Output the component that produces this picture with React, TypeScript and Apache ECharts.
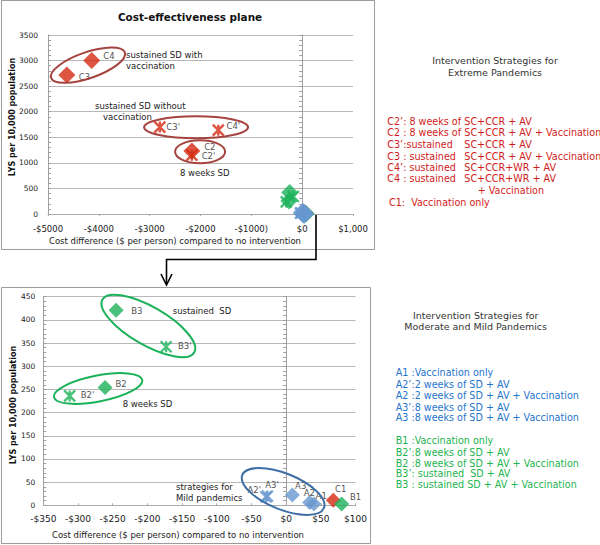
import React, { useEffect, useRef } from 'react';
import * as echarts from 'echarts';

// ---------------- data ----------------
const extremeDiamondNames = ['C4', 'C3', 'C2', 'C1'];
const extremeDiamondCost = [-4140, -4630, -2170, 68];
const extremeDiamondLys = [3000, 2720, 1230, 11];

const extremeCrossNames = ["C3'", "C4'", "C2'"];
const extremeCrossCost = [-2800, -1650, -2170];
const extremeCrossLys = [1700, 1640, 1150];

const moderateDiamondNames = ['B3', 'B2', 'B1'];
const moderateDiamondCost = [-245, -261, 80];
const moderateDiamondLys = [421, 254, 3];

const moderateCrossNames = ["B3'", "B2'"];
const moderateCrossCost = [-173, -312];
const moderateCrossLys = [342, 236];

const mildDiamondNames = ['A3', 'A2', 'A1'];
const mildDiamondCost = [9, 34, 40];
const mildDiamondLys = [22, 6, 3];

const mildCrossNames = ["A2'", "A3'"];
const mildCrossCost = [-29, -27];
const mildCrossLys = [18, 20];

const topXTickLabels = ['-$5000', '-$4000', '-$3000', '-$2000', '-$1000)', '$0', '$1,000'];
const topYTickLabels = ['0', '500', '1000', '1500', '2000', '2500', '3000', '3500'];
const bottomXTickLabels = ['-$350', '-$300', '-$250', '-$200', '-$150', '-$100', '-$50', '$0', '$50', '$100'];
const bottomYTickLabels = ['0', '50', '100', '150', '200', '250', '300', '350', '400', '450'];

const extremeLegendLeft = ['C2\u2019: 8 weeks of', 'C2 : 8 weeks of', 'C3\u2019:sustained', 'C3 : sustained', 'C4\u2019: sustained', 'C4 : sustained'];
const extremeLegendRight = ['SC+CCR + AV', 'SC+CCR + AV + Vaccination', 'SC+CCR + AV', 'SC+CCR + AV + Vaccination', 'SC+CCR+WR + AV', 'SC+CCR+WR + AV'];
const extremeLegendExtra = ['+ Vaccination', 'C1:  Vaccination only'];
const mildLegend = ['A1 :Vaccination only', 'A2\u2019:2 weeks of SD + AV', 'A2 :2 weeks of SD + AV + Vaccination', 'A3\u2019:8 weeks of SD + AV', 'A3 :8 weeks of SD + AV + Vaccination'];
const moderateLegend = ['B1 :Vaccination only', 'B2\u2019:8 weeks of SD + AV', 'B2 :8 weeks of SD + AV + Vaccination', 'B3\u2019: sustained  SD + AV', 'B3 : sustained SD + AV + Vaccination'];

// ---------------- presentation ----------------
const FONT = 'DejaVu Sans';
const RED = '#d42a12';
const GREEN = '#1cb25a';
const BLUE = '#6897cf';
const RED_TXT = '#d01c1c';
const BLUE_TXT = '#1f74cc';
const GREEN_TXT = '#1db450';
const LEG_FS = 9.6;
const crossPath = 'path://M0,0L10,10M10,0L0,10M5,0L5,10';

const topLabelOffsets: Record<string, [number, number]> = {
  C4: [11.6, -4.7], C3: [12, 2.6], "C3'": [7.7, 0.7], "C4'": [9.4, -2.7], C2: [12.3, -4.3], "C2'": [11, 1.7],
};
const bottomLabelOffsets: Record<string, [number, number]> = {
  B3: [15, 1], "B3'": [13, 0], B2: [10.4, -3.7], "B2'": [12.3, 0.7], "A2'": [-17.4, -6], "A3'": [-1, -10],
  A3: [2.7, -9.3], A2: [-6, -10], A1: [1.7, -8.3], C1: [1.7, -11.7], B1: [8.3, -6.7],
};

const topRange = { xMin: -5000, xMax: 1000, yMin: 0, yMax: 3500 };
const bottomRange = { xMin: -350, xMax: 100, yMin: 0, yMax: 450 };

// ellipse annotations: centre in data units, radii in px, angle in degrees (counter-clockwise)
const topEllipses = [
  { cost: -4213, lys: 2910, rx: 39, ry: 13, angle: 19, color: '#a5443f' },
  { cost: -2087, lys: 1695, rx: 52, ry: 11, angle: 0, color: '#a5443f' },
  { cost: -2008, lys: 1217, rx: 25, ry: 11.5, angle: 0, color: '#a5443f' },
];
const bottomEllipses = [
  { cost: -198.6, lys: 387, rx: 53, ry: 19, angle: -30, color: GREEN },
  { cost: -271, lys: 252, rx: 45, ry: 13, angle: 11, color: GREEN },
  { cost: -4.3, lys: 29.8, rx: 44, ry: 18, angle: -22, color: '#3e6ea6' },
];

function makeSeries(
  names: string[], xs: number[], ys: number[],
  opt: { panel: 0 | 1; cross: boolean; size: number; color: string; labels: Record<string, [number, number]> }
) {
  const range = opt.panel === 0 ? topRange : bottomRange;
  const data: any[] = [];
  names.forEach((n, i) => {
    const x = xs[i], y = ys[i];
    if (x < range.xMin || x > range.xMax || y < range.yMin || y > range.yMax) return;
    const off = opt.labels[n];
    data.push({
      name: n,
      value: [x, y],
      label: off
        ? {
            show: true,
            position: [opt.size / 2 + off[0], opt.size / 2 + off[1]],
            align: 'left',
            verticalAlign: 'middle',
            formatter: n,
            fontSize: 8.5,
            fontFamily: FONT,
            color: '#1a1a1a',
          }
        : { show: false },
    });
  });
  return {
    type: 'scatter',
    xAxisIndex: opt.panel,
    yAxisIndex: opt.panel === 0 ? 0 : 3,
    symbol: opt.cross ? crossPath : 'diamond',
    symbolSize: opt.size,
    itemStyle: opt.cross
      ? { color: opt.color, borderColor: opt.color, borderWidth: 2.4 }
      : { color: opt.color, borderWidth: 0 },
    emphasis: { disabled: true },
    data,
  };
}

function txt(x: number, y: number, text: string, o: any = {}) {
  return {
    type: 'text',
    x,
    y,
    rotation: o.rotation || 0,
    silent: true,
    z: 50,
    style: {
      text,
      fill: o.fill || '#1a1a1a',
      fontSize: o.fontSize || 9,
      fontFamily: FONT,
      fontWeight: o.fontWeight || 'normal',
      align: o.align || 'left',
      verticalAlign: 'middle',
    },
  };
}

function zeroAxis(gridIndex: number, max: number, interval: number, inside: boolean) {
  return {
    gridIndex,
    type: 'value',
    min: 0,
    max,
    interval,
    position: 'left',
    axisLine: { show: true, onZero: true, lineStyle: { color: '#a0a0a0', width: 1 } },
    axisTick: { show: true, inside, length: 3, lineStyle: { color: '#a0a0a0' } },
    minorTick: { show: true, splitNumber: 5, length: 3, lineStyle: { color: '#a0a0a0' } },
    axisLabel: { show: false },
    splitLine: { show: false },
  };
}

export default function App() {
  const ref = useRef<HTMLDivElement>(null);
  useEffect(() => {
    if (!ref.current) return;
    const chart = echarts.init(ref.current, undefined, { renderer: 'svg' });
    const axisLabelStyle = { color: '#1a1a1a', fontFamily: FONT };
    const option: any = {
      animation: false,
      textStyle: { fontFamily: FONT },
      grid: [
        { left: 48, right: 247, top: 35, bottom: 331, containLabel: false, outerBoundsMode: 'none' },
        { left: 43.3, right: 244.5, top: 296.7, bottom: 39.7, containLabel: false, outerBoundsMode: 'none' },
      ],
      xAxis: [
        {
          gridIndex: 0, type: 'value', min: topRange.xMin, max: topRange.xMax, interval: 1000,
          axisLine: { show: true, onZero: false, lineStyle: { color: '#aaaaaa' } },
          axisTick: { show: true, length: 2, lineStyle: { color: '#aaaaaa' } },
          splitLine: { show: false },
          axisLabel: {
            ...axisLabelStyle, fontSize: 8.5, margin: 10,
            formatter: (v: number) => topXTickLabels[Math.round((v - topRange.xMin) / 1000)] ?? '',
          },
        },
        {
          gridIndex: 1, type: 'value', min: bottomRange.xMin, max: bottomRange.xMax, interval: 50,
          axisLine: { show: true, onZero: false, lineStyle: { color: '#aaaaaa' } },
          axisTick: { show: true, inside: true, length: 2, lineStyle: { color: '#aaaaaa' } },
          splitLine: { show: false },
          axisLabel: {
            ...axisLabelStyle, fontSize: 9, margin: 9,
            formatter: (v: number) => bottomXTickLabels[Math.round((v - bottomRange.xMin) / 50)] ?? '',
          },
        },
      ],
      yAxis: [
        {
          gridIndex: 0, type: 'value', min: 0, max: 3500, interval: 500,
          axisLine: { show: false, onZero: false }, axisTick: { show: false },
          splitLine: { show: true, lineStyle: { color: '#b8b8b8', width: 1 } },
          axisLabel: {
            ...axisLabelStyle, fontSize: 7.5, margin: 10,
            formatter: (v: number) => topYTickLabels[Math.round(v / 500)] ?? '',
          },
        },
        zeroAxis(0, 3500, 500, false),
        zeroAxis(0, 3500, 500, true),
        {
          gridIndex: 1, type: 'value', min: 0, max: 450, interval: 50,
          axisLine: { show: false, onZero: false }, axisTick: { show: false },
          splitLine: { show: true, lineStyle: { color: '#b8b8b8', width: 1 } },
          axisLabel: {
            ...axisLabelStyle, fontSize: 7.5, margin: 8,
            formatter: (v: number) => bottomYTickLabels[Math.round(v / 50)] ?? '',
          },
        },
        zeroAxis(1, 450, 50, false),
        zeroAxis(1, 450, 50, true),
      ],
      series: [
        makeSeries(extremeDiamondNames, extremeDiamondCost, extremeDiamondLys, { panel: 0, cross: false, size: 17, color: RED, labels: topLabelOffsets }),
        makeSeries(extremeCrossNames, extremeCrossCost, extremeCrossLys, { panel: 0, cross: true, size: 11, color: RED, labels: topLabelOffsets }),
        makeSeries(moderateDiamondNames, moderateDiamondCost, moderateDiamondLys, { panel: 0, cross: false, size: 17, color: GREEN, labels: {} }),
        makeSeries(moderateCrossNames, moderateCrossCost, moderateCrossLys, { panel: 0, cross: true, size: 11, color: GREEN, labels: {} }),
        makeSeries(mildCrossNames, mildCrossCost, mildCrossLys, { panel: 0, cross: true, size: 11, color: BLUE, labels: {} }),
        makeSeries(mildDiamondNames, mildDiamondCost, mildDiamondLys, { panel: 0, cross: false, size: 20, color: BLUE, labels: {} }),

        makeSeries(extremeDiamondNames, extremeDiamondCost, extremeDiamondLys, { panel: 1, cross: false, size: 15, color: RED, labels: bottomLabelOffsets }),
        makeSeries(moderateDiamondNames, moderateDiamondCost, moderateDiamondLys, { panel: 1, cross: false, size: 15, color: GREEN, labels: bottomLabelOffsets }),
        makeSeries(moderateCrossNames, moderateCrossCost, moderateCrossLys, { panel: 1, cross: true, size: 11, color: GREEN, labels: bottomLabelOffsets }),
        makeSeries(mildCrossNames, mildCrossCost, mildCrossLys, { panel: 1, cross: true, size: 11, color: BLUE, labels: bottomLabelOffsets }),
        makeSeries(mildDiamondNames, mildDiamondCost, mildDiamondLys, { panel: 1, cross: false, size: 15, color: BLUE, labels: bottomLabelOffsets }),
      ],
    };
    chart.setOption(option);

    const g: any[] = [];
    // frames
    g.push({ type: 'rect', silent: true, shape: { x: 1.5, y: 0.5, width: 373, height: 249 }, style: { fill: 'none', stroke: '#9c9c9c', lineWidth: 1 } });
    g.push({ type: 'rect', silent: true, shape: { x: 1.5, y: 287.5, width: 369, height: 256 }, style: { fill: 'none', stroke: '#9c9c9c', lineWidth: 1 } });
    // connector arrow
    g.push({ type: 'polyline', silent: true, shape: { points: [[316, 215], [316, 259.5], [166.5, 259.5], [166.5, 284]] }, style: { fill: 'none', stroke: '#000', lineWidth: 1.6 } });
    g.push({ type: 'polyline', silent: true, shape: { points: [[161, 274], [166.5, 285], [172, 274]] }, style: { fill: 'none', stroke: '#000', lineWidth: 1.6 } });

    // ellipses anchored to data
    const addEllipses = (list: typeof topEllipses, finder: any) => {
      list.forEach((e) => {
        const p = chart.convertToPixel(finder, [e.cost, e.lys]) as number[];
        g.push({
          type: 'ellipse', silent: true, z: 40, x: p[0], y: p[1], rotation: (e.angle * Math.PI) / 180,
          shape: { cx: 0, cy: 0, rx: e.rx, ry: e.ry },
          style: { fill: 'none', stroke: e.color, lineWidth: 2 },
        });
      });
    };
    addEllipses(topEllipses, { xAxisIndex: 0, yAxisIndex: 0 });
    addEllipses(bottomEllipses, { xAxisIndex: 1, yAxisIndex: 3 });

    // titles
    g.push(txt(190, 17, 'Cost-effectiveness plane', { fontSize: 10.4, fontWeight: 'bold', align: 'center', fill: '#111' }));
    g.push(txt(12, 117, 'LYS per 10,000 population', { fontSize: 8, fontWeight: 'bold', align: 'center', rotation: Math.PI / 2, fill: '#111' }));
    g.push(txt(13, 405, 'LYS per 10,000 population', { fontSize: 8, fontWeight: 'bold', align: 'center', rotation: Math.PI / 2, fill: '#111' }));
    g.push(txt(175, 241, 'Cost difference ($ per person) compared to no intervention', { fontSize: 8.5, align: 'center' }));
    g.push(txt(178, 535, 'Cost difference ($ per person) compared to no intervention', { fontSize: 8.5, align: 'center' }));

    // annotations inside plots
    g.push(txt(126, 55, 'sustained SD with', { fontSize: 8.5 }));
    g.push(txt(126, 65.5, 'vaccination', { fontSize: 8.5 }));
    g.push(txt(95, 106, 'sustained SD without', { fontSize: 8.5 }));
    g.push(txt(103, 117, 'vaccination', { fontSize: 8.5 }));
    g.push(txt(180, 173, '8 weeks SD', { fontSize: 8.5 }));
    g.push(txt(172.7, 311, 'sustained  SD', { fontSize: 8.5 }));
    g.push(txt(122.7, 404.3, '8 weeks SD', { fontSize: 8.5 }));
    g.push(txt(176, 486.7, 'strategies for', { fontSize: 8.5 }));
    g.push(txt(176, 497.5, 'Mild pandemics', { fontSize: 8.5 }));

    // right-hand legends
    g.push(txt(495, 60.7, 'Intervention Strategies for', { fontSize: 9.5, align: 'center', fill: '#333' }));
    g.push(txt(495, 72.7, 'Extreme Pandemics', { fontSize: 9.5, align: 'center', fill: '#333' }));
    const redY = [121.7, 132.7, 144.3, 156, 167, 178.3];
    extremeLegendLeft.forEach((t, i) => g.push(txt(387.3, redY[i], t, { fontSize: LEG_FS, fill: RED_TXT })));
    extremeLegendRight.forEach((t, i) => g.push(txt(464.3, redY[i], t, { fontSize: LEG_FS, fill: RED_TXT })));
    g.push(txt(477.7, 190, extremeLegendExtra[0], { fontSize: LEG_FS, fill: RED_TXT }));
    g.push(txt(389, 202.3, extremeLegendExtra[1], { fontSize: LEG_FS, fill: RED_TXT }));

    g.push(txt(475.7, 315, 'Intervention Strategies for', { fontSize: 9.5, align: 'center', fill: '#333' }));
    g.push(txt(475.7, 326.7, 'Moderate and Mild Pandemics', { fontSize: 9.5, align: 'center', fill: '#333' }));
    const blueY = [372.7, 384, 395.7, 407, 417.7];
    mildLegend.forEach((t, i) => g.push(txt(395.7, blueY[i], t, { fontSize: LEG_FS, fill: BLUE_TXT })));
    const greenY = [440, 452.3, 463, 473.7, 484.7];
    moderateLegend.forEach((t, i) => g.push(txt(395.7, greenY[i], t, { fontSize: LEG_FS, fill: GREEN_TXT })));

    chart.setOption({ graphic: g });

    return () => chart.dispose();
  }, []);
  return (
    <div
      ref={ref}
      style={{ position: 'fixed', left: 0, top: 0, width: 600, height: 545, background: '#fff' }}
    />
  );
}
